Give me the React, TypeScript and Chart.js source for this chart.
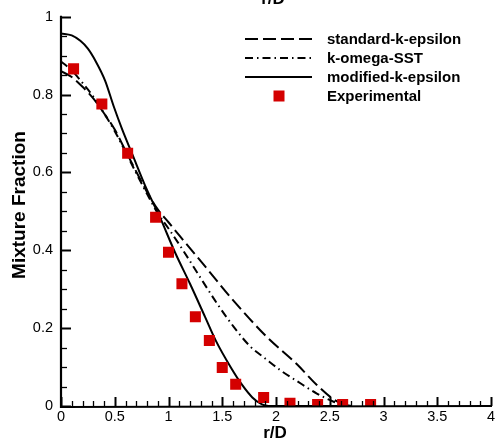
import React, { useEffect, useRef } from "react";
import { Chart, registerables } from "chart.js";

Chart.register(...registerables);

// ---- data ----
const xTickValues = [0, 0.5, 1, 1.5, 2, 2.5, 3, 3.5, 4];
const yTickValues = [0, 0.2, 0.4, 0.6, 0.8, 1];

const stdR = [0, 0.1, 0.2, 0.3, 0.4, 0.5, 0.6, 0.7, 0.8, 0.9, 1.0, 1.11, 1.36, 1.6, 1.916, 2.195, 2.38, 2.536, 2.62, 2.7];
const stdF = [0.86, 0.845, 0.82, 0.79, 0.752, 0.71, 0.656, 0.602, 0.55, 0.505, 0.472, 0.435, 0.352, 0.272, 0.177, 0.107, 0.054, 0.017, 0.005, 0];

const sstR = [0, 0.1, 0.2, 0.3, 0.4, 0.5, 0.6, 0.7, 0.8, 0.9, 1.0, 1.14, 1.296, 1.45, 1.605, 1.76, 1.9, 2.05, 2.195, 2.38, 2.536, 2.62, 2.7];
const sstF = [0.885, 0.862, 0.83, 0.795, 0.752, 0.706, 0.653, 0.598, 0.545, 0.495, 0.456, 0.398, 0.33, 0.264, 0.204, 0.153, 0.122, 0.09, 0.064, 0.032, 0.011, 0.004, 0];

const modR = [0, 0.1, 0.18, 0.25, 0.32, 0.41, 0.49, 0.57, 0.66, 0.8, 0.92, 1.06, 1.2, 1.34, 1.44, 1.58, 1.68, 1.78, 1.87, 1.93, 2.3, 2.7];
const modF = [0.957, 0.952, 0.938, 0.918, 0.887, 0.836, 0.77, 0.71, 0.649, 0.555, 0.485, 0.395, 0.314, 0.229, 0.168, 0.099, 0.056, 0.022, 0.004, 0, 0, 0];

const expR = [0.117, 0.38, 0.62, 0.88, 1.0, 1.125, 1.25, 1.38, 1.5, 1.625, 1.885, 2.13, 2.387, 2.62, 2.88];
const expF = [0.866, 0.776, 0.649, 0.485, 0.395, 0.314, 0.229, 0.168, 0.099, 0.056, 0.022, 0.007, 0.004, 0.004, 0.004];

const seriesNames = ["standard-k-epsilon", "k-omega-SST", "modified-k-epsilon", "Experimental"];
const xTitle = "r/D";
const yTitle = "Mixture Fraction";

const RED = "#D40000";
const FONT = "'Liberation Sans', Arial, Helvetica, sans-serif";
const DASH_STD = [13, 5];
const DASH_SST = [8, 4, 1.5, 4];

const toPts = (xs: number[], ys: number[]) => xs.map((x, i) => ({ x, y: ys[i] }));
const fmt = (v: number) => String(Number(v.toFixed(2)));

const decorPlugin = {
  id: "decor",
  afterDraw(chart: any) {
    const ctx = chart.ctx as CanvasRenderingContext2D;
    const { left, right, top, bottom } = chart.chartArea;
    const xs = chart.scales.x;
    const ys = chart.scales.y;
    ctx.save();
    ctx.strokeStyle = "#000";
    ctx.lineCap = "butt";
    for (let i = 0; i <= 40; i++) {
      const v = i / 10;
      const px = Math.round(xs.getPixelForValue(v)) + 0.5;
      const major = i % 5 === 0;
      ctx.lineWidth = major ? 2 : 1.3;
      ctx.beginPath();
      ctx.moveTo(px, bottom);
      ctx.lineTo(px, bottom - (major ? 9 : 5));
      ctx.stroke();
    }
    for (let i = 0; i <= 20; i++) {
      const v = i / 20;
      const py = Math.round(ys.getPixelForValue(v)) + 0.5;
      const major = i % 4 === 0;
      ctx.lineWidth = major ? 2 : 1.3;
      ctx.beginPath();
      ctx.moveTo(left, py);
      ctx.lineTo(left + (major ? 10 : 6), py);
      ctx.stroke();
    }
    ctx.lineWidth = 2.2;
    ctx.beginPath();
    ctx.moveTo(left, top - 1);
    ctx.lineTo(left, bottom + 1);
    ctx.lineTo(right + 1, bottom);
    ctx.stroke();

    ctx.fillStyle = "#000";
    ctx.font = `bold 17px ${FONT}`;
    ctx.textAlign = "center";
    ctx.textBaseline = "alphabetic";
    ctx.fillText(xTitle, 275, 438);
    ctx.fillText(xTitle, 273, 3.5);
    ctx.save();
    ctx.translate(25, 205);
    ctx.rotate(-Math.PI / 2);
    ctx.font = `bold 19px ${FONT}`;
    ctx.fillText(yTitle, 0, 0);
    ctx.restore();

    const lx0 = 245, lx1 = 312, tx = 327;
    const rows = [39, 58, 77, 96];
    const dashes = [DASH_STD, DASH_SST, []];
    ctx.lineWidth = 2;
    for (let i = 0; i < 3; i++) {
      ctx.setLineDash(dashes[i]);
      ctx.beginPath();
      ctx.moveTo(lx0, rows[i]);
      ctx.lineTo(lx1, rows[i]);
      ctx.stroke();
    }
    ctx.setLineDash([]);
    ctx.fillStyle = RED;
    ctx.fillRect(279 - 5.5, rows[3] - 5.5, 11, 11);
    ctx.fillStyle = "#000";
    ctx.font = `bold 15px ${FONT}`;
    ctx.textAlign = "left";
    ctx.textBaseline = "middle";
    for (let i = 0; i < 4; i++) ctx.fillText(seriesNames[i], tx, rows[i] + 1);
    ctx.restore();
  },
};

export default function App() {
  const ref = useRef<HTMLCanvasElement | null>(null);
  useEffect(() => {
    if (!ref.current) return;
    const lineDs = (label: string, xs: number[], ys: number[], dash: number[]) => ({
      type: "scatter" as const,
      label,
      data: toPts(xs, ys),
      showLine: true,
      borderColor: "#000",
      borderWidth: 2,
      borderDash: dash,
      pointRadius: 0,
      pointHoverRadius: 0,
      cubicInterpolationMode: "monotone" as const,
      order: 1,
    });
    const chart = new Chart(ref.current, {
      type: "scatter",
      data: {
        datasets: [
          {
            label: seriesNames[3],
            data: toPts(expR, expF),
            pointStyle: "rect",
            pointRadius: 7.8,
            pointBorderWidth: 0,
            backgroundColor: RED,
            borderColor: RED,
            order: 0,
          } as any,
          lineDs(seriesNames[0], stdR, stdF, DASH_STD),
          lineDs(seriesNames[1], sstR, sstF, DASH_SST),
          lineDs(seriesNames[2], modR, modF, []),
        ],
      },
      options: {
        responsive: false,
        animation: false,
        layout: { padding: { top: 14, right: 8, left: 0, bottom: 0 } },
        plugins: { legend: { display: false }, tooltip: { enabled: false } },
        scales: {
          x: {
            type: "linear",
            min: 0,
            max: 4,
            afterBuildTicks: (s: any) => {
              s.ticks = xTickValues.map((v) => ({ value: v }));
            },
            afterFit: (s: any) => {
              s.height = 37;
            },
            grid: { display: false, drawTicks: false },
            border: { display: false },
            ticks: {
              padding: 2,
              color: "#000",
              font: { family: FONT, size: 14.5 },
              maxRotation: 0,
              autoSkip: false,
              callback: (v: any) => fmt(Number(v)),
            },
          },
          y: {
            type: "linear",
            min: 0,
            max: 1,
            afterBuildTicks: (s: any) => {
              s.ticks = yTickValues.map((v) => ({ value: v }));
            },
            afterFit: (s: any) => {
              s.width = 61;
            },
            grid: { display: false, drawTicks: false },
            border: { display: false },
            ticks: {
              padding: 8,
              color: "#000",
              font: { family: FONT, size: 14.5 },
              autoSkip: false,
              callback: (v: any) => fmt(Number(v)),
            },
          },
        },
      },
      plugins: [decorPlugin],
    });
    return () => chart.destroy();
  }, []);
  return (
    <div style={{ position: "absolute", left: 0, top: 0, width: 499, height: 443, background: "#fff" }}>
      <canvas ref={ref} width={499} height={443} style={{ display: "block" }} />
    </div>
  );
}
